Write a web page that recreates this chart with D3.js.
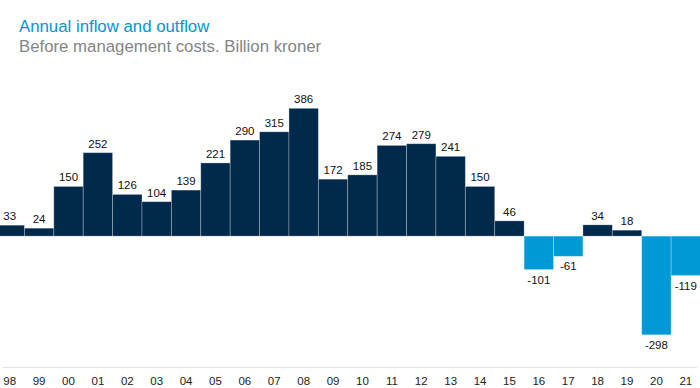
<!DOCTYPE html>
<html>
<head>
<meta charset="utf-8" />
<title>Annual inflow and outflow</title>
<style>
  body { margin: 0; background: #fff; }
  text { font-family: "Liberation Sans", Arial, sans-serif; }
</style>
</head>
<body>
<svg id="chart" width="700" height="388"></svg>
<script src="https://d3js.org/d3.v7.min.js"></script>
<script>
// years and net flow, billion kroner
var years = ["98","99","00","01","02","03","04","05","06","07","08","09",
             "10","11","12","13","14","15","16","17","18","19","20","21"];
var flows = [33, 24, 150, 252, 126, 104, 139, 221, 290, 315, 386, 172,
             185, 274, 279, 241, 150, 46, -101, -61, 34, 18, -298, -119];

var svg = d3.select("#chart");

var x = d3.scaleBand()
  .domain(years)
  .range([-5, 700.5])
  .padding(0);

var y = d3.scaleLinear()
  .domain([-298, 386])
  .range([334.8, 108.3]);

// title
svg.append("text")
  .attr("x", 19).attr("y", 32)
  .attr("fill", "#0096d6")
  .attr("font-size", 16.8)
  .text("Annual inflow and outflow");
svg.append("text")
  .attr("x", 19).attr("y", 52)
  .attr("fill", "#858585")
  .attr("font-size", 16.8)
  .text("Before management costs. Billion kroner");

// bars
svg.selectAll("rect.bar")
  .data(flows)
  .enter().append("rect")
  .attr("class", "bar")
  .attr("x", function(d, i){ return x(years[i]); })
  .attr("width", x.bandwidth())
  .attr("y", function(d){ return y(Math.max(d, 0)); })
  .attr("height", function(d){ return Math.abs(y(d) - y(0)); })
  .attr("fill", function(d){ return d < 0 ? "#0099d8" : "#01294b"; })
  .attr("stroke", "rgba(255,255,255,0.35)")
  .attr("stroke-width", 0.8);

// value labels
svg.selectAll("text.val")
  .data(flows)
  .enter().append("text")
  .attr("class", "val")
  .attr("x", function(d, i){ return x(years[i]) + x.bandwidth() / 2; })
  .attr("y", function(d){ return d < 0 ? y(d) + 14 : y(d) - 5; })
  .attr("text-anchor", "middle")
  .attr("font-size", 11.5)
  .attr("fill", "#111")
  .text(function(d){ return d; });

// bottom rule
svg.append("line")
  .attr("x1", 3).attr("x2", 697)
  .attr("y1", 367.5).attr("y2", 367.5)
  .attr("stroke", "#e2e2e2")
  .attr("stroke-width", 1);

// year axis
var xAxis = d3.axisBottom(x).tickSize(0).tickPadding(0);
var g = svg.append("g")
  .attr("transform", "translate(0,377)")
  .call(xAxis);
g.select(".domain").remove();
g.selectAll("text")
  .attr("font-size", 11.5)
  .attr("fill", "#222")
  .attr("font-family", "Liberation Sans, Arial, sans-serif");
</script>
</body>
</html>
